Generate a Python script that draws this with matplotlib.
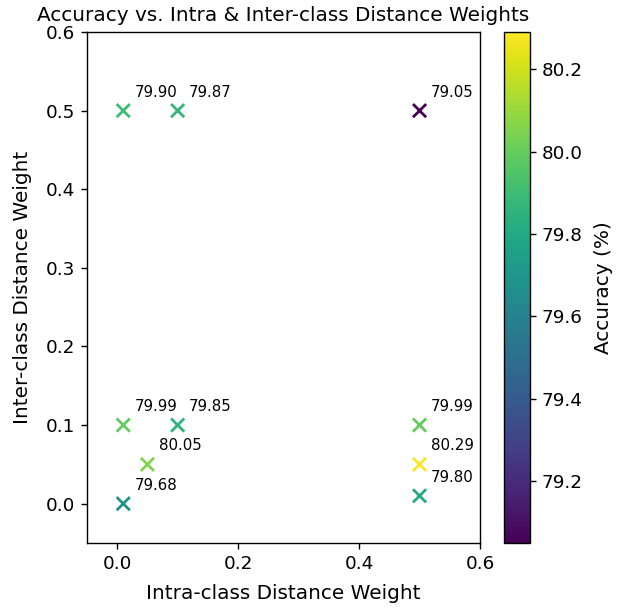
import matplotlib
matplotlib.use("Agg")
import matplotlib.pyplot as plt

# loss weight grid and resulting accuracy
intra_w = [0.01, 0.1, 0.5, 0.01, 0.1, 0.05, 0.01, 0.5, 0.5, 0.5]
inter_w = [0.5, 0.5, 0.5, 0.1, 0.1, 0.05, 0.0, 0.1, 0.05, 0.01]
accuracy = [79.90, 79.87, 79.05, 79.99, 79.85, 80.05, 79.68, 79.99, 80.29, 79.80]

fig = plt.figure(figsize=(6.19, 6.09), dpi=100)
ax = fig.add_axes([0.1405, 0.1084, 0.635, 0.839])
cax = fig.add_axes([0.814, 0.1084, 0.042, 0.839])

sc = ax.scatter(intra_w, inter_w, c=accuracy, cmap="viridis", marker="x", s=90, linewidths=2)
for x, y, a in zip(intra_w, inter_w, accuracy):
    ax.annotate(f"{a:.2f}", (x, y), xytext=(8, 10), textcoords="offset points", fontsize=10.8)

ax.set_xlim(-0.05, 0.6)
ax.set_ylim(-0.05, 0.6)
ax.set_xticks([0.0, 0.2, 0.4, 0.6])
ax.set_xlabel("Intra-class Distance Weight", fontsize=14.4, labelpad=8)
ax.set_ylabel("Inter-class Distance Weight", fontsize=14.4, labelpad=10)
ax.set_title("Accuracy vs. Intra & Inter-class Distance Weights", fontsize=14.4, pad=8)
ax.tick_params(labelsize=13.2, length=4.2, width=1.0, pad=4.2)
for s in ax.spines.values():
    s.set_linewidth(1.0)

cb = fig.colorbar(sc, cax=cax)
cb.set_label("Accuracy (%)", fontsize=14.4, labelpad=8)
cb.ax.tick_params(labelsize=13.2, length=4.2, width=1.0, pad=4.2)
cb.outline.set_linewidth(1.0)

fig.savefig("out.png", dpi=100)
